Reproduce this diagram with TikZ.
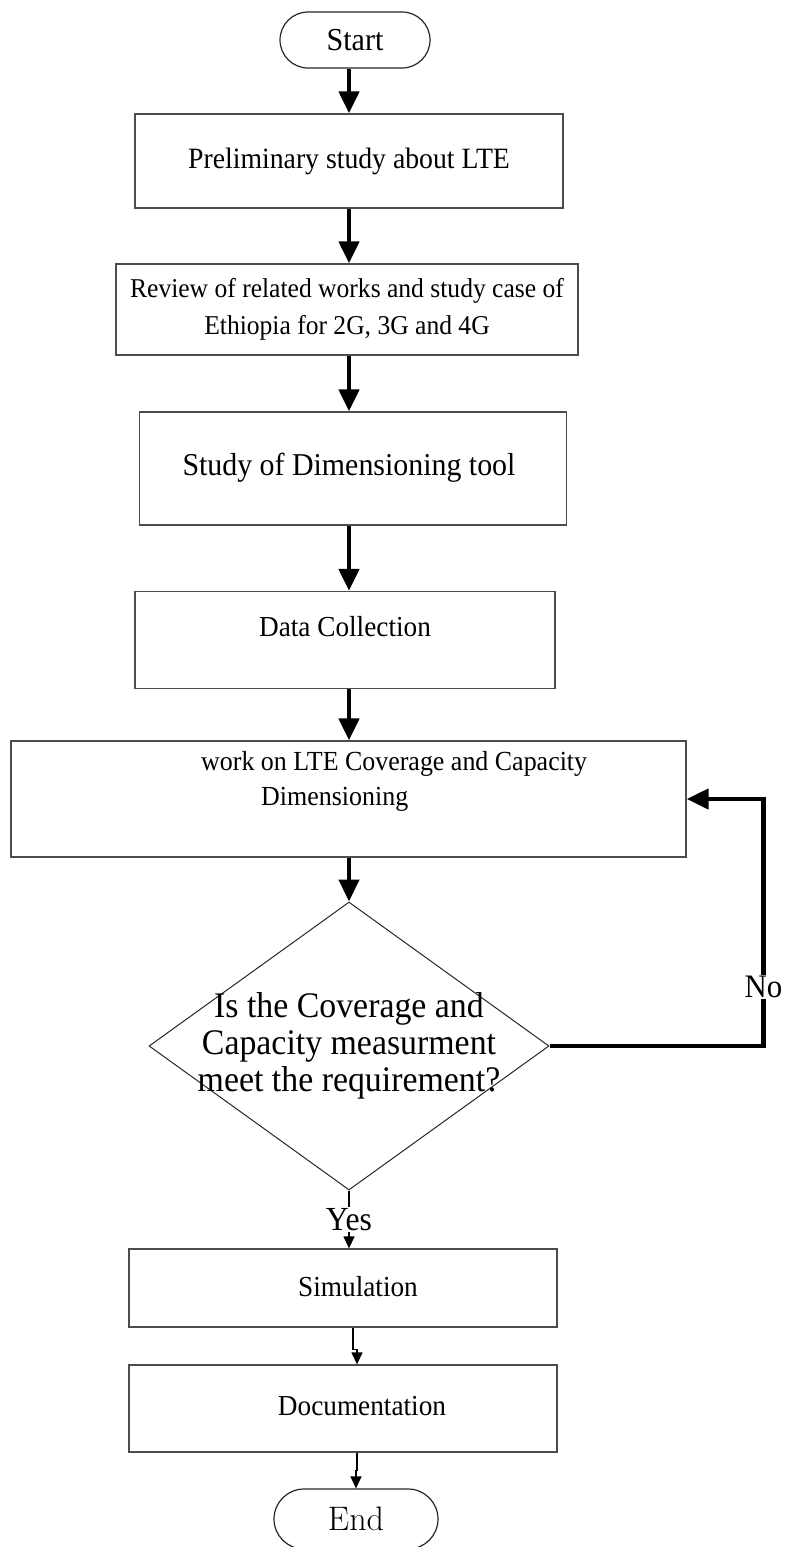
\documentclass[tikz,border=0pt]{standalone}
\usepackage{fontspec}
\newfontfamily\timesfont[FakeStretch=0.94]{Liberation Serif}
\usetikzlibrary{arrows.meta,shapes.misc,shapes.geometric}

\newcommand{\fsz}[2]{\timesfont\fontsize{#1}{#2}\selectfont}

\begin{document}
\begin{tikzpicture}[x=1pt,y=-1pt,
  every node/.style={font=\fsz{28}{36}},
  box/.style={draw=black!70, line width=1.3pt, rectangle, inner sep=0pt},
  term/.style={draw=black!85, line width=1.2pt, rounded rectangle, inner sep=0pt},
  decision/.style={draw=black!85, line width=1pt, diamond, inner sep=0pt},
  bigflow/.style={line width=4.5pt, -{Triangle[length=22pt,width=20pt]}},
  smallflow/.style={line width=1.3pt, -{Triangle[length=12pt,width=11pt]}},
  lbl/.style={fill=white, inner sep=1pt}
]
\useasboundingbox (0,0) rectangle (786,1547);

% process steps
\node[term, minimum width=150pt, minimum height=56pt, font=\fsz{32}{38}] (start) at (355,40) {Start};
\node[box, minimum width=428pt, minimum height=94pt, font=\fsz{29.5}{36}] (b1) at (349,161) {Preliminary study about LTE};
\node[box, minimum width=462pt, minimum height=91pt, align=center, font=\fsz{27.2}{37}] (b2) at (347,309.5)
  {Review of related works and study case of\\Ethiopia for 2G, 3G and 4G};
\node[box, minimum width=427pt, minimum height=113pt] (b3) at (353,468.5) {};
\node[font=\fsz{31.8}{38}] (t3) at (349,468) {Study of Dimensioning tool};
\node[box, minimum width=420pt, minimum height=97pt] (b4) at (345,640) {};
\node[font=\fsz{29}{36}] (t4) at (345,627) {Data Collection};
\node[box, minimum width=675pt, minimum height=116pt] (b5) at (348.5,799) {};
\node[anchor=west, align=left, inner sep=0pt, font=\fsz{27.6}{35}] (t5) at (201,781)
  {work on LTE Coverage and Capacity\\\hspace*{60pt}Dimensioning};

% decision
\node[decision, minimum width=400pt, minimum height=288pt] (dec) at (349,1046) {};
\node[align=center, font=\fsz{36}{37}] (dect) at (349,1046)
  {Is the Coverage and\\Capacity measurment\\meet the requirement?};

% final steps
\node[box, minimum width=428pt, minimum height=78pt] (sim) at (343,1288) {};
\node[font=\fsz{29}{36}] (tsim) at (358,1287) {Simulation};
\node[box, minimum width=428pt, minimum height=87pt] (doc) at (343,1408.5) {};
\node[font=\fsz{29}{36}] (tdoc) at (362,1406) {Documentation};
\node[term, minimum width=164pt, minimum height=60pt,
      font=\normalfont\fontsize{34}{40}\selectfont] (end) at (356,1519) {End};

% main flow
\draw[bigflow] (start.south -| b1.north) -- (b1.north);
\draw[bigflow] (b1.south) -- (b1.south |- b2.north);
\draw[bigflow] (b1.south |- b2.south) -- (b1.south |- b3.north);
\draw[bigflow] (b1.south |- b3.south) -- (b1.south |- b4.north);
\draw[bigflow] (b1.south |- b4.south) -- (b1.south |- b5.north);
\draw[bigflow] (b1.south |- b5.south) -- (dec.north);

% loop back when the requirement is not met
\draw[bigflow] (dec.east) -- ++(214,0)
  |- node[lbl, pos=0.12, font=\fsz{32.8}{38}] (no) {No} (b5.east);

% requirement met
\draw[smallflow] (dec.south) -- node[lbl, pos=0.5, font=\fsz{33.7}{38}] (yes) {Yes} (dec.south |- sim.north);
\draw[smallflow] ([xshift=10pt]sim.south) -- ++(0,22) -| ([xshift=14pt]doc.north);
\draw[smallflow] ([xshift=14pt]doc.south) -- ++(0,18) -| (end.north);
\end{tikzpicture}
\end{document}
